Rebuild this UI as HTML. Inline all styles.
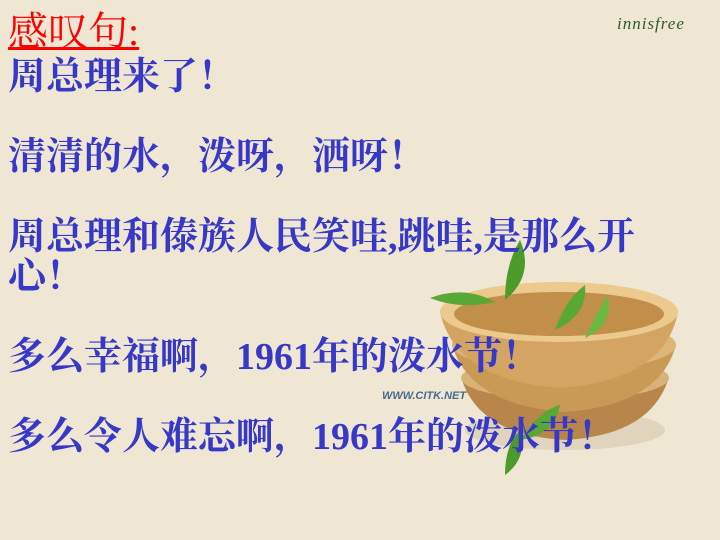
<!DOCTYPE html>
<html><head><meta charset="utf-8"><style>
body{margin:0;width:720px;height:540px;overflow:hidden;background:#efe7d4;position:relative}
.t{position:absolute;left:8px;font-family:"Liberation Serif","Noto Serif CJK SC",serif;font-size:38px;font-weight:bold;color:#3838c8;line-height:40px;white-space:nowrap}
</style></head><body>
<svg style="position:absolute;left:0;top:0" width="720" height="540">
<ellipse cx="565" cy="430" rx="100" ry="20" fill="#e0d4bc"/>
<path d="M462 380 Q480 435 565 440 Q650 435 668 380 Z" fill="#b8864a"/>
<ellipse cx="565" cy="378" rx="104" ry="22" fill="#d9b27a"/>
<path d="M452 345 Q470 405 565 412 Q660 405 676 345 Z" fill="#c99a55"/>
<ellipse cx="564" cy="345" rx="112" ry="26" fill="#dcb678"/>
<path d="M440 312 Q455 380 560 388 Q665 380 678 312 Z" fill="#d3a462"/>
<ellipse cx="559" cy="312" rx="119" ry="30" fill="#ecc98c"/>
<ellipse cx="559" cy="314" rx="105" ry="22" fill="#c28f4a"/>
<path d="M505 300 Q505 265 520 240 Q535 275 505 300Z" fill="#4c9a2c"/>
<path d="M495 302 Q460 310 430 298 Q465 285 495 302Z" fill="#5aa834"/>
<path d="M555 330 Q565 300 585 285 Q588 315 555 330Z" fill="#5aa834"/>
<path d="M585 338 Q598 310 608 295 Q614 325 585 338Z" fill="#6ab840"/>
<path d="M520 440 Q540 410 560 405 Q555 435 520 440Z" fill="#5aa834"/>
<path d="M505 475 Q505 445 520 430 Q528 458 505 475Z" fill="#4c9a2c"/>
<text x="382" y="399" font-family="Liberation Sans,sans-serif" font-size="11" font-style="italic" font-weight="bold" fill="#4a6a8a">WWW.CITK.NET</text>
</svg>
<div style="position:absolute;left:617px;top:14px;font-family:'Liberation Serif',serif;font-style:italic;font-size:17px;color:#2d5a2d;letter-spacing:1px">innisfree</div>
<div class="t" style="top:12px;font-size:40px;color:#ff0000;font-weight:normal;text-decoration:underline;text-decoration-thickness:3px">感叹句:</div>
<div class="t" style="top:57px">周总理来了！</div>
<div class="t" style="top:137px">清清的水，泼呀，洒呀！</div>
<div class="t" style="top:217px">周总理和傣族人民笑哇,跳哇,是那么开<br>心！</div>
<div class="t" style="top:337px">多么幸福啊，1961年的泼水节！</div>
<div class="t" style="top:417px">多么令人难忘啊，1961年的泼水节！</div>
</body></html>
